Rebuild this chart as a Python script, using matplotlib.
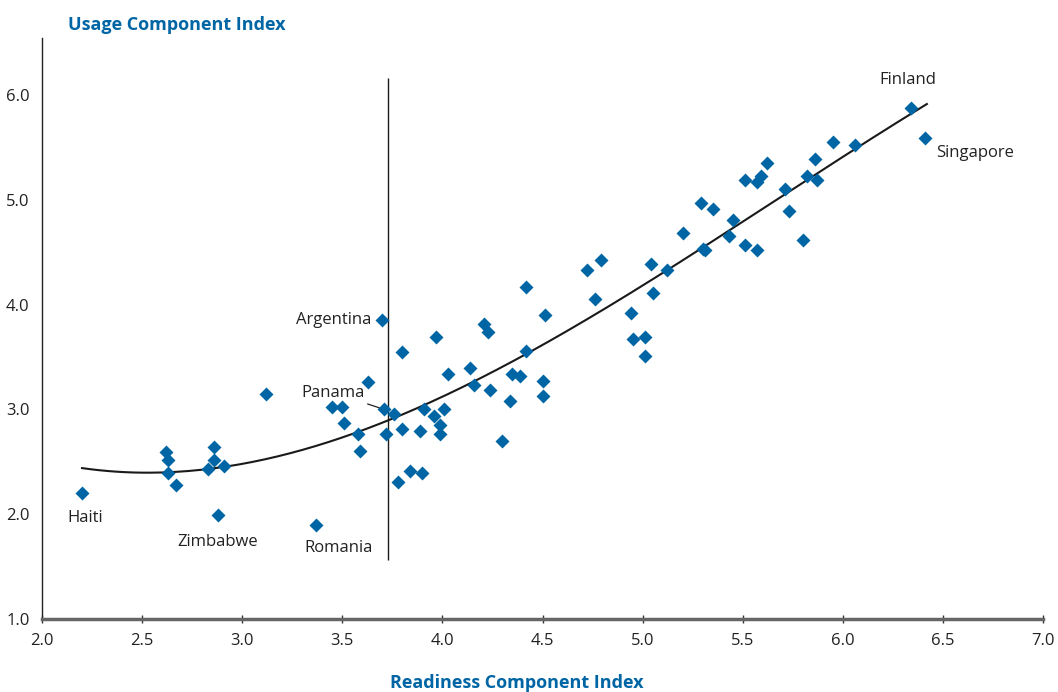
import matplotlib.pyplot as plt
import numpy as np

# readiness (x) and usage (y) component index
readiness = [2.20, 2.62, 2.63, 2.63, 2.67, 2.86, 2.86, 2.83, 2.91, 2.88,
             3.12, 3.37, 3.45, 3.50, 3.51, 3.58, 3.59, 3.63, 3.70, 3.71,
             3.72, 3.76, 3.80, 3.80, 3.78, 3.84, 3.90, 3.89, 3.91, 3.96,
             3.97, 3.99, 3.99, 4.01, 4.03, 4.14, 4.16, 4.24, 4.21, 4.23,
             4.35, 4.39, 4.50, 4.50, 4.34, 4.30, 4.42, 4.42, 4.51, 4.72,
             4.79, 4.76, 4.94, 4.95, 5.01, 5.01, 5.04, 5.12, 5.05, 5.20,
             5.29, 5.35, 5.45, 5.43, 5.30, 5.31, 5.51, 5.57, 5.51, 5.57,
             5.59, 5.62, 5.71, 5.73, 5.80, 5.82, 5.86, 5.87, 5.95, 6.06,
             6.34, 6.41]
usage = [2.20, 2.59, 2.52, 2.39, 2.28, 2.64, 2.52, 2.43, 2.46, 1.99,
         3.15, 1.90, 3.02, 3.02, 2.87, 2.77, 2.60, 3.26, 3.85, 3.00,
         2.77, 2.96, 3.55, 2.81, 2.31, 2.41, 2.39, 2.79, 3.00, 2.94,
         3.69, 2.85, 2.77, 3.00, 3.34, 3.40, 3.23, 3.19, 3.82, 3.74,
         3.34, 3.32, 3.27, 3.13, 3.08, 2.70, 3.56, 4.17, 3.90, 4.33,
         4.43, 4.05, 3.92, 3.67, 3.69, 3.51, 4.39, 4.33, 4.11, 4.68,
         4.97, 4.91, 4.81, 4.66, 4.53, 4.52, 4.57, 4.52, 5.19, 5.17,
         5.23, 5.35, 5.10, 4.89, 4.62, 5.23, 5.39, 5.19, 5.55, 5.52,
         5.88, 5.59]

# labelled countries: (name, x, y)
labelled = [('Haiti', 2.20, 2.20), ('Zimbabwe', 2.88, 1.99),
            ('Romania', 3.37, 1.90), ('Argentina', 3.70, 3.85),
            ('Panama', 3.71, 3.00), ('Finland', 6.34, 5.88),
            ('Singapore', 6.41, 5.59)]

threshold = 3.726
blue = '#0065a4'
font = 'Open Sans'

fig = plt.figure(figsize=(10.58, 6.92), dpi=100)
ax = fig.add_axes([42 / 1058, 1 - 619 / 692, 1001 / 1058, 581 / 692])

ax.plot(readiness, usage, 'D', color=blue, ms=7, mec='none', zorder=3)

# polynomial trend line
coef = np.polyfit(readiness, usage, 3)
xs = np.linspace(min(readiness), max(readiness) + 0.01, 200)
ax.plot(xs, np.polyval(coef, xs), color='#1a1a1a', lw=1.5, zorder=2)

ax.vlines(threshold, 1.56, 6.16, color='#1a1a1a', lw=1)

offsets = {'Haiti': (2, -18, 'center'), 'Zimbabwe': (0, -19, 'center'),
           'Romania': (16, -17, 'center'), 'Argentina': (-8, 0, 'right'),
           'Panama': (-14, 12, 'right'), 'Finland': (-2, 20, 'center'),
           'Singapore': (8, -11, 'left')}
for name, x, y in labelled:
    dx, dy, ha = offsets[name]
    if name == 'Panama':
        ax.annotate(name, (x, y), xytext=(dx, dy), textcoords='offset points',
                    ha=ha, va='center', fontsize=12, family=font, color='#222222',
                    arrowprops=dict(arrowstyle='-', color='#222222', lw=0.9,
                                    shrinkA=1, shrinkB=4))
    else:
        ax.annotate(name, (x, y), xytext=(dx, dy), textcoords='offset points',
                    ha=ha, va='center', fontsize=12, family=font, color='#222222')

ax.set_xlim(2.0, 7.0)
ax.set_ylim(1.0, 6.545)
ax.set_xticks(np.arange(2.0, 7.01, 0.5))
ax.set_yticks(np.arange(1.0, 6.01, 1.0))
ax.set_xticklabels([f'{v:.1f}' for v in np.arange(2.0, 7.01, 0.5)])
ax.set_yticklabels([f'{v:.1f}' for v in np.arange(1.0, 6.01, 1.0)])
ax.tick_params(axis='x', direction='inout', length=6, width=1, color='#333333',
               labelsize=12, pad=7, labelcolor='#222222')
ax.tick_params(axis='y', length=0, labelsize=12, pad=9, labelcolor='#222222')
for lab in ax.get_xticklabels() + ax.get_yticklabels():
    lab.set_family(font)

ax.spines['top'].set_visible(False)
ax.spines['right'].set_visible(False)
ax.spines['left'].set_color('#222222')
ax.spines['left'].set_linewidth(1)
ax.spines['bottom'].set_color('#666666')
ax.spines['bottom'].set_linewidth(2.5)

fig.text(68 / 1058, 1 - 25 / 692, 'Usage Component Index', ha='left', va='center',
         fontsize=13, fontweight='bold', color=blue, family=font)
fig.text(517 / 1058, 1 - 683 / 692, 'Readiness Component Index', ha='center',
         va='center', fontsize=13, fontweight='bold', color=blue, family=font)

fig.savefig('out.png', dpi=100)
